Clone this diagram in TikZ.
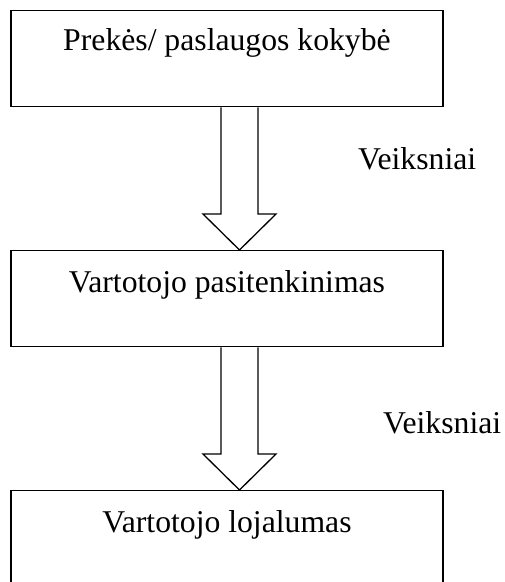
\documentclass[tikz,border=0pt]{standalone}
\usepackage{fontspec}
\setmainfont{Liberation Serif}
\usetikzlibrary{calc}
\begin{document}
\begin{tikzpicture}[x=1pt,y=1pt,
  box/.style={draw,line width=1.3pt,minimum width=432pt,minimum height=96pt,inner sep=0pt,anchor=north},
  lbl/.style={font=\fontsize{31.7}{38}\selectfont,anchor=base,inner sep=0pt},
  blockarrow/.style={draw,line width=1.3pt,line join=miter}]
\useasboundingbox (0,0) rectangle (505,-582);
\clip (0,0) rectangle (505,-582);
\node[box] (b1) at (227,-10) {};
\node[box] (b2) at (227,-250) {};
\node[box] (b3) at (227,-490) {};
\node[lbl] (t1) at (227,-50) {Prekės/ paslaugos kokybė};
\node[lbl] (t2) at (227,-292) {Vartotojo pasitenkinimas};
\node[lbl] (t3) at (227,-532) {Vartotojo lojalumas};
\node[lbl,anchor=base west] (v1) at (358,-169) {Veiksniai};
\node[lbl,anchor=base west] (v2) at (383,-433) {Veiksniai};
\coordinate (a1s) at (b1.south -| 239.5,0);
\coordinate (a1t) at (b2.north -| 239.5,0);
\coordinate (a2s) at (b2.south -| 239.5,0);
\coordinate (a2t) at (b3.north -| 239.5,0);
\foreach \s/\t in {a1s/a1t,a2s/a2t}{
  \draw[blockarrow] ($(\s)+(-18.5,0)$) -- ($(\t)+(-18.5,36)$) -- ($(\t)+(-36.5,36)$)
    -- (\t) -- ($(\t)+(36.5,36)$) -- ($(\t)+(18.5,36)$) -- ($(\s)+(18.5,0)$);
}
\end{tikzpicture}
\end{document}
